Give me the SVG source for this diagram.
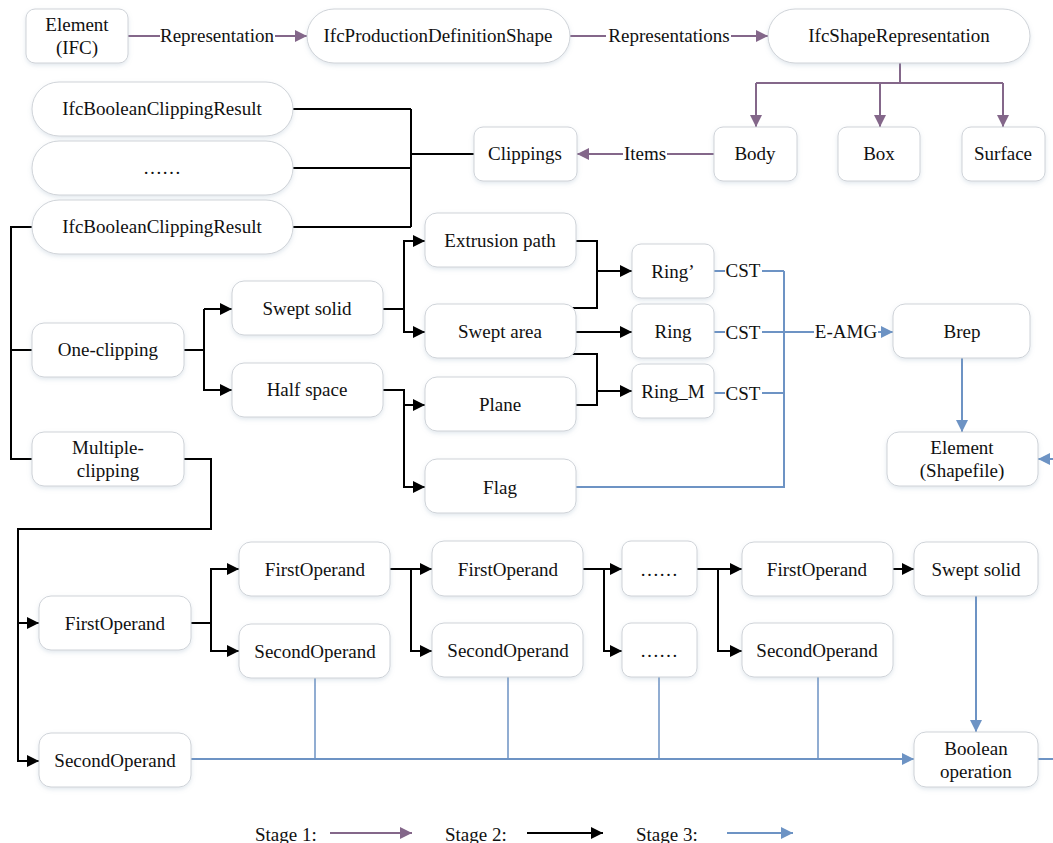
<svg xmlns="http://www.w3.org/2000/svg" width="1053" height="843" viewBox="0 0 1053 843">
  <style>
    .n rect { fill: #ffffff; stroke: #cfd3d8; stroke-width: 1; filter: url(#sh); }
    text { font-family: "Liberation Serif", "Times New Roman", serif; font-size: 19px; fill: #111; }
    .n text { text-anchor: middle; }
    .lbl { text-anchor: middle; }
    .k { stroke: #000; stroke-width: 2; fill: none; }
    .p { stroke: #84678a; stroke-width: 2; fill: none; }
    .b { stroke: #6d93c4; stroke-width: 2; fill: none; }
    .bt { stroke: #6d93c4; stroke-width: 1.5; fill: none; }
  </style>
  <defs>
    <filter id="sh" x="-10%" y="-20%" width="120%" height="150%">
      <feDropShadow dx="0" dy="2" stdDeviation="2" flood-color="#8aa0b8" flood-opacity="0.25"/>
    </filter>
    <marker id="ak" viewBox="0 0 10 10" refX="10" refY="5" markerWidth="13" markerHeight="12" markerUnits="userSpaceOnUse" orient="auto">
      <path d="M0,0 L10,5 L0,10 z" fill="#000"/>
    </marker>
    <marker id="ap" viewBox="0 0 10 10" refX="10" refY="5" markerWidth="13" markerHeight="12" markerUnits="userSpaceOnUse" orient="auto">
      <path d="M0,0 L10,5 L0,10 z" fill="#84678a"/>
    </marker>
    <marker id="ab" viewBox="0 0 10 10" refX="10" refY="5" markerWidth="13" markerHeight="12" markerUnits="userSpaceOnUse" orient="auto">
      <path d="M0,0 L10,5 L0,10 z" fill="#6d93c4"/>
    </marker>
  </defs>
  <rect width="1053" height="843" fill="#ffffff"/>

  <!-- connectors -->
  <g id="connectors">
    <!-- stage 1 -->
    <path class="p" d="M128,36 H160"/>
    <path class="p" d="M275,36 H307" marker-end="url(#ap)"/>
    <path class="p" d="M570,36 H606"/>
    <path class="p" d="M731,36 H768" marker-end="url(#ap)"/>
    <path class="p" d="M900,63 V83 M756,83 H1003"/>
    <path class="p" d="M756,83 V127" marker-end="url(#ap)"/>
    <path class="p" d="M880,83 V127" marker-end="url(#ap)"/>
    <path class="p" d="M1003,83 V127" marker-end="url(#ap)"/>
    <path class="p" d="M714,154 H667"/>
    <path class="p" d="M623,154 H577" marker-end="url(#ap)"/>
    <text class="lbl" x="217" y="42">Representation</text>
    <text class="lbl" x="669" y="42">Representations</text>
    <text class="lbl" x="645" y="160">Items</text>

    <!-- stage 2 -->
    <path class="k" d="M293,109 H411 M293,168 H411 M293,227 H411 M411,109 V227 M411,154 H474"/>
    <path class="k" d="M32,227 H11 V459 H32 M11,350 H32"/>
    <path class="k" d="M184,350 H204 V309"/>
    <path class="k" d="M204,309 H232" marker-end="url(#ak)"/>
    <path class="k" d="M204,350 V390 H232" marker-end="url(#ak)"/>
    <path class="k" d="M383,309 H404 V241 H425" marker-end="url(#ak)"/>
    <path class="k" d="M404,309 V332 H425" marker-end="url(#ak)"/>
    <path class="k" d="M383,390 H404 V405 H425" marker-end="url(#ak)"/>
    <path class="k" d="M404,405 V487 H425" marker-end="url(#ak)"/>
    <path class="k" d="M576,241 H597 V308 H572 M597,271 H632" marker-end="url(#ak)"/>
    <path class="k" d="M576,332 H632" marker-end="url(#ak)"/>
    <path class="k" d="M572,354 H597 V405 H576 M597,391 H632" marker-end="url(#ak)"/>
    <path class="k" d="M184,459 H211 V529 H18 V623 H39" marker-end="url(#ak)"/>
    <path class="k" d="M18,623 V761 H39" marker-end="url(#ak)"/>
    <path class="k" d="M191,623 H211 V569 H239" marker-end="url(#ak)"/>
    <path class="k" d="M211,623 V651 H239" marker-end="url(#ak)"/>
    <path class="k" d="M390,569 H432" marker-end="url(#ak)"/>
    <path class="k" d="M411,569 V651 H432" marker-end="url(#ak)"/>
    <path class="k" d="M583,569 H622" marker-end="url(#ak)"/>
    <path class="k" d="M604,569 V651 H622" marker-end="url(#ak)"/>
    <path class="k" d="M697,569 H742" marker-end="url(#ak)"/>
    <path class="k" d="M718,569 V651 H742" marker-end="url(#ak)"/>
    <path class="k" d="M893,569 H914" marker-end="url(#ak)"/>

    <!-- stage 3 -->
    <path class="b" d="M714,271 H725 M762,271 H784 M714,332 H725 M762,332 H784 M714,393 H725 M762,393 H784"/>
    <path class="b" d="M784,271 V487 H576 M784,332 H814"/>
    <path class="b" d="M878,332 H893" marker-end="url(#ab)"/>
    <path class="b" d="M962,358 V432" marker-end="url(#ab)"/>
    <path class="b" d="M1053,459 H1038" marker-end="url(#ab)"/>
    <path class="b" d="M976,596 V732" marker-end="url(#ab)"/>
    <path class="bt" d="M315,678 V759 M508,677 V759 M659,677 V759 M818,677 V759"/>
    <path class="b" d="M191,759 H914" marker-end="url(#ab)"/>
    <path class="b" d="M1038,759 H1053"/>
    <text class="lbl" x="743" y="277">CST</text>
    <text class="lbl" x="743" y="339">CST</text>
    <text class="lbl" x="743" y="400">CST</text>
    <text class="lbl" x="846" y="338">E-AMG</text>
  </g>

  <!-- nodes -->
  <g id="element-ifc" class="n"><rect x="26" y="9" width="102" height="54" rx="9"/><text x="77" y="31">Element</text><text x="77" y="54">(IFC)</text></g>
  <g id="ifc-production-definition-shape" class="n"><rect x="307" y="9" width="263" height="54" rx="27"/><text x="438" y="42">IfcProductionDefinitionShape</text></g>
  <g id="ifc-shape-representation" class="n"><rect x="768" y="9" width="262" height="54" rx="27"/><text x="899" y="42">IfcShapeRepresentation</text></g>
  <g id="body" class="n"><rect x="714" y="127" width="83" height="54" rx="9"/><text x="755" y="160">Body</text></g>
  <g id="box" class="n"><rect x="838" y="127" width="82" height="54" rx="9"/><text x="879" y="160">Box</text></g>
  <g id="surface" class="n"><rect x="962" y="127" width="83" height="54" rx="9"/><text x="1003" y="160">Surface</text></g>
  <g id="clippings" class="n"><rect x="474" y="127" width="103" height="54" rx="9"/><text x="525" y="160">Clippings</text></g>
  <g id="clipping-result-1" class="n"><rect x="32" y="82" width="261" height="54" rx="27"/><text x="162" y="115">IfcBooleanClippingResult</text></g>
  <g id="clipping-result-more" class="n"><rect x="32" y="141" width="261" height="54" rx="27"/><text x="162" y="174">……</text></g>
  <g id="clipping-result-n" class="n"><rect x="32" y="200" width="261" height="54" rx="27"/><text x="162" y="233">IfcBooleanClippingResult</text></g>
  <g id="one-clipping" class="n"><rect x="32" y="323" width="152" height="54" rx="12"/><text x="108" y="356">One-clipping</text></g>
  <g id="multiple-clipping" class="n"><rect x="32" y="432" width="152" height="54" rx="12"/><text x="108" y="454">Multiple-</text><text x="108" y="477">clipping</text></g>
  <g id="swept-solid" class="n"><rect x="232" y="281" width="151" height="54" rx="12"/><text x="307" y="315">Swept solid</text></g>
  <g id="half-space" class="n"><rect x="232" y="363" width="151" height="54" rx="12"/><text x="307" y="396">Half space</text></g>
  <g id="extrusion-path" class="n"><rect x="425" y="213" width="151" height="54" rx="12"/><text x="500" y="247">Extrusion path</text></g>
  <g id="swept-area" class="n"><rect x="425" y="304" width="151" height="54" rx="12"/><text x="500" y="338">Swept area</text></g>
  <g id="plane" class="n"><rect x="425" y="377" width="151" height="54" rx="12"/><text x="500" y="411">Plane</text></g>
  <g id="flag" class="n"><rect x="425" y="459" width="151" height="54" rx="12"/><text x="500" y="494">Flag</text></g>
  <g id="ring-prime" class="n"><rect x="632" y="244" width="82" height="54" rx="9"/><text x="673" y="278">Ring’</text></g>
  <g id="ring" class="n"><rect x="632" y="304" width="82" height="54" rx="9"/><text x="673" y="338">Ring</text></g>
  <g id="ring-m" class="n"><rect x="632" y="364" width="82" height="54" rx="9"/><text x="673" y="398">Ring_M</text></g>
  <g id="brep" class="n"><rect x="893" y="304" width="137" height="54" rx="12"/><text x="962" y="338">Brep</text></g>
  <g id="element-shapefile" class="n"><rect x="887" y="432" width="151" height="54" rx="12"/><text x="962" y="454">Element</text><text x="962" y="477">(Shapefile)</text></g>
  <g id="first-operand-1" class="n"><rect x="39" y="596" width="152" height="54" rx="12"/><text x="115" y="630">FirstOperand</text></g>
  <g id="second-operand-1" class="n"><rect x="39" y="733" width="152" height="54" rx="12"/><text x="115" y="767">SecondOperand</text></g>
  <g id="first-operand-2" class="n"><rect x="239" y="542" width="151" height="54" rx="12"/><text x="315" y="576">FirstOperand</text></g>
  <g id="second-operand-2" class="n"><rect x="239" y="624" width="151" height="54" rx="12"/><text x="315" y="658">SecondOperand</text></g>
  <g id="first-operand-3" class="n"><rect x="432" y="541" width="151" height="55" rx="12"/><text x="508" y="576">FirstOperand</text></g>
  <g id="second-operand-3" class="n"><rect x="432" y="623" width="151" height="54" rx="12"/><text x="508" y="657">SecondOperand</text></g>
  <g id="first-operand-more" class="n"><rect x="622" y="541" width="75" height="55" rx="9"/><text x="659" y="576">……</text></g>
  <g id="second-operand-more" class="n"><rect x="622" y="623" width="75" height="54" rx="9"/><text x="659" y="657">……</text></g>
  <g id="first-operand-4" class="n"><rect x="742" y="542" width="151" height="54" rx="12"/><text x="817" y="576">FirstOperand</text></g>
  <g id="second-operand-4" class="n"><rect x="742" y="623" width="151" height="54" rx="12"/><text x="817" y="657">SecondOperand</text></g>
  <g id="swept-solid-2" class="n"><rect x="914" y="542" width="124" height="54" rx="12"/><text x="976" y="576">Swept solid</text></g>
  <g id="boolean-operation" class="n"><rect x="914" y="732" width="124" height="55" rx="12"/><text x="976" y="755">Boolean</text><text x="976" y="778">operation</text></g>

  <!-- legend -->
  <g id="legend">
    <text x="255" y="841">Stage 1:</text>
    <path class="p" d="M330,833 H412" marker-end="url(#ap)"/>
    <text x="445" y="841">Stage 2:</text>
    <path class="k" d="M527,833 H603" marker-end="url(#ak)"/>
    <text x="636" y="841">Stage 3:</text>
    <path class="b" d="M727,833 H793" marker-end="url(#ab)"/>
  </g>
</svg>
